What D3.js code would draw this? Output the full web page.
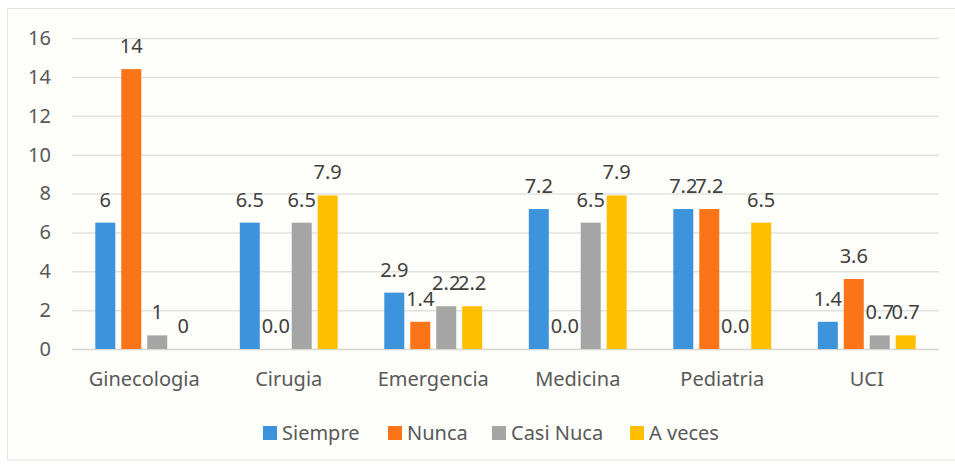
<!DOCTYPE html>
<html><head><meta charset="utf-8">
<script src="https://cdn.jsdelivr.net/npm/d3@7"></script>
<style>
html,body{margin:0;padding:0;background:#fff;}
svg{display:block;}
text{font-family:"Noto Sans","Open Sans",sans-serif;}
</style></head>
<body><svg id="c" width="955" height="466"></svg>
<script>
const categories = ["Ginecologia","Cirugia","Emergencia","Medicina","Pediatria","UCI"];
const seriesNames = ["Siempre","Nunca","Casi Nuca","A veces"];
const seriesColors = ["#3d94dd","#fb7418","#a5a5a5","#fdbf00"];
const siempre  = [6.5, 6.5, 2.9, 7.2, 7.2, 1.4];
const nunca    = [14.4, 0, 1.4, 0, 7.2, 3.6];
const casiNuca = [0.7, 6.5, 2.2, 6.5, 0, 0.7];
const aVeces   = [0, 7.9, 2.2, 7.9, 6.5, 0.7];
const siempreLabels  = ["6","6.5","2.9","7.2","7.2","1.4"];
const nuncaLabels    = ["14","0.0","1.4","0.0","7.2","3.6"];
const casiNucaLabels = ["1","6.5","2.2","6.5","0.0","0.7"];
const aVecesLabels   = ["0","7.9","2.2","7.9","6.5","0.7"];
const yTicks = [0,2,4,6,8,10,12,14,16];

const values = [siempre, nunca, casiNuca, aVeces];
const labels = [siempreLabels, nuncaLabels, casiNucaLabels, aVecesLabels];

const svg = d3.select("#c");
// background and frame
svg.append("rect").attr("x",7.5).attr("y",8.5).attr("width",960).attr("height",451.5)
  .attr("fill","#fdfdf9").attr("stroke","#e6e6e2").attr("stroke-width",1);

const y = d3.scaleLinear().domain([0,16]).range([349,38]);
const x0 = d3.scaleBand().domain(categories).range([72,939]).paddingInner(0).paddingOuter(0);
const x1 = d3.scaleBand().domain(seriesNames).range([23.3, x0.bandwidth()-23.3]).paddingInner(0.23).paddingOuter(0);

// gridlines
svg.append("g").selectAll("line").data(yTicks).join("line")
  .attr("x1",72).attr("x2",939)
  .attr("y1",d=>y(d)+0.5).attr("y2",d=>y(d)+0.5)
  .attr("stroke",d=>d===0?"#d6d6d6":"#e2e2de").attr("stroke-width",1.5);

// y axis labels
const yAxis = d3.axisLeft(y).tickValues(yTicks).tickSize(0).tickPadding(0);
const ya = svg.append("g").attr("transform","translate(51,0)").call(yAxis);
ya.select(".domain").remove();
ya.selectAll("text").attr("font-size",20).attr("fill","#595959").attr("font-family","'Noto Sans',sans-serif");

// x axis labels
const xAxis = d3.axisBottom(x0).tickSize(0).tickPadding(0);
const xa = svg.append("g").attr("transform","translate(0,372)").call(xAxis);
xa.select(".domain").remove();
xa.selectAll("text").attr("font-size",20).attr("fill","#595959").attr("font-family","'Noto Sans',sans-serif");

// bars
const groups = svg.append("g").selectAll("g").data(categories).join("g")
  .attr("transform",c=>`translate(${x0(c)},0)`);
groups.each(function(c,ci){
  const g = d3.select(this);
  const data = seriesNames.map((s,si)=>({s,si,v:values[si][ci],l:labels[si][ci]}));
  g.selectAll("rect").data(data.filter(d=>d.v>0)).join("rect")
    .attr("x",d=>x1(d.s)).attr("width",x1.bandwidth())
    .attr("y",d=>y(d.v)).attr("height",d=>y(0)-y(d.v))
    .attr("fill",d=>seriesColors[d.si]);
  g.selectAll("text").data(data).join("text")
    .attr("x",d=>x1(d.s)+x1.bandwidth()/2)
    .attr("y",d=>y(d.v)-16)
    .attr("text-anchor","middle")
    .attr("font-size",20).attr("fill","#404040")
    .text(d=>d.l);
});

// legend
const legendX = [263, 388, 492, 630];
const lg = svg.append("g").selectAll("g").data(seriesNames).join("g")
  .attr("transform",(d,i)=>`translate(${legendX[i]},426)`);
lg.append("rect").attr("width",14).attr("height",14).attr("fill",(d,i)=>seriesColors[i]);
lg.append("text").attr("x",19).attr("y",14).attr("font-size",20).attr("fill","#595959").text(d=>d);
</script></body></html>
